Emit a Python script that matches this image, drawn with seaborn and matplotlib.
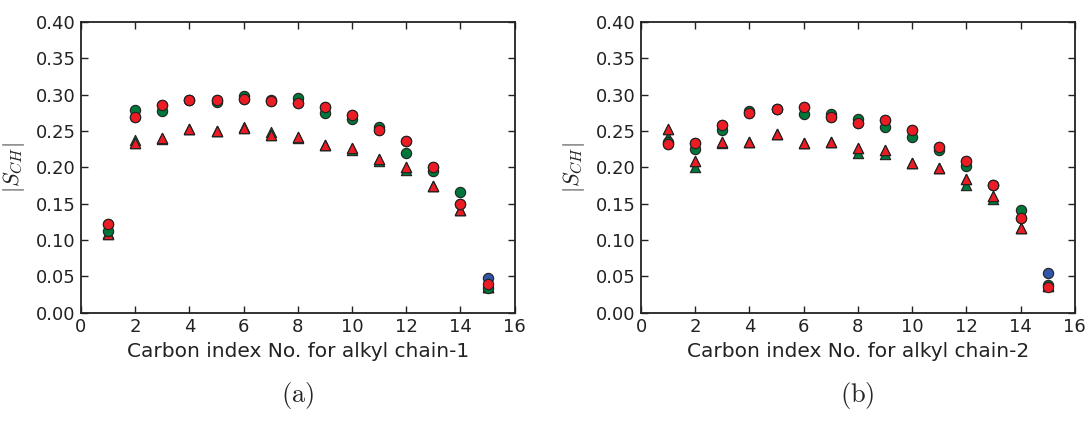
import matplotlib
matplotlib.use('Agg')
import matplotlib.pyplot as plt
import numpy as np
import pandas as pd
import seaborn as sns

carbon = list(range(1, 16))

# chain-1, panel (a)
a_blue_circle = [0.122, 0.2695, 0.286, 0.292, 0.292, 0.2945, 0.291, 0.288, 0.283, 0.272, 0.251, 0.236, 0.201, 0.149, 0.048]
a_green_circle = [0.113, 0.279, 0.277, 0.293, 0.290, 0.298, 0.292, 0.2955, 0.275, 0.267, 0.256, 0.220, 0.195, 0.166, 0.034]
a_red_circle = [0.122, 0.2695, 0.286, 0.292, 0.292, 0.2945, 0.291, 0.288, 0.283, 0.272, 0.251, 0.236, 0.201, 0.149, 0.040]
a_blue_tri = [0.109, 0.234, 0.2407, 0.253, 0.250, 0.2545, 0.2444, 0.242, 0.2307, 0.226, 0.211, 0.201, 0.1745, 0.142, 0.036]
a_green_tri = [0.110, 0.2375, 0.2395, 0.253, 0.250, 0.255, 0.248, 0.240, 0.2307, 0.2235, 0.209, 0.196, 0.1745, 0.142, 0.035]
a_red_tri = [0.109, 0.234, 0.2407, 0.253, 0.250, 0.2545, 0.2444, 0.242, 0.2307, 0.226, 0.211, 0.201, 0.1745, 0.142, 0.036]

# chain-2, panel (b)
b_blue_circle = [0.2325, 0.2329, 0.258, 0.2745, 0.2804, 0.2832, 0.2695, 0.261, 0.2645, 0.2507, 0.2278, 0.2087, 0.1758, 0.131, 0.055]
b_green_circle = [0.235, 0.2256, 0.252, 0.2773, 0.280, 0.2736, 0.2736, 0.2658, 0.255, 0.2416, 0.2242, 0.2019, 0.1758, 0.1416, 0.0389]
b_red_circle = [0.2325, 0.2329, 0.258, 0.2745, 0.2804, 0.2832, 0.2695, 0.261, 0.2645, 0.2507, 0.2278, 0.2087, 0.1758, 0.131, 0.0362]
b_blue_tri = [0.253, 0.2087, 0.2348, 0.2348, 0.2453, 0.2338, 0.2348, 0.227, 0.2233, 0.2053, 0.1997, 0.1845, 0.1603, 0.1173, 0.037]
b_green_tri = [0.2416, 0.200, 0.234, 0.2348, 0.2453, 0.2338, 0.2348, 0.2204, 0.219, 0.2055, 0.199, 0.1753, 0.157, 0.117, 0.038]
b_red_tri = [0.253, 0.2087, 0.2348, 0.2348, 0.2453, 0.2338, 0.2348, 0.227, 0.2233, 0.2053, 0.1997, 0.1845, 0.1603, 0.1173, 0.037]

blue = '#2f55a4'
green = '#00773a'
red = '#ec1c24'

sns.set_style('ticks', {'xtick.direction': 'in', 'ytick.direction': 'in',
                        'axes.edgecolor': '#222222'})
plt.rcParams['font.family'] = ['DejaVu Sans']
plt.rcParams['mathtext.fontset'] = 'cm'
plt.rcParams['xtick.top'] = True
plt.rcParams['ytick.right'] = True

fig = plt.figure(figsize=(10.87, 4.28), dpi=100)
ax_a = fig.add_axes([0.0745, 0.269, 0.399, 0.680])
ax_b = fig.add_axes([0.5897, 0.269, 0.399, 0.680])

panels = [
    (ax_a, [a_blue_circle, a_green_circle, a_red_circle], [a_blue_tri, a_green_tri, a_red_tri],
     'Carbon index No. for alkyl chain-1', '(a)', 0.2735),
    (ax_b, [b_blue_circle, b_green_circle, b_red_circle], [b_blue_tri, b_green_tri, b_red_tri],
     'Carbon index No. for alkyl chain-2', '(b)', 0.789),
]

for ax, circles, tris, xlabel, tag, tx in panels:
    for vals, col in zip(tris, [blue, green, red]):
        sns.scatterplot(x=carbon, y=vals, ax=ax, color=col, marker='^', s=55,
                        edgecolor='#222222', linewidth=0.8, zorder=3)
    for vals, col in zip(circles, [blue, green, red]):
        sns.scatterplot(x=carbon, y=vals, ax=ax, color=col, marker='o', s=55,
                        edgecolor='#222222', linewidth=0.8, zorder=4)
    ax.set_xlim(0, 16)
    ax.set_ylim(0, 0.40)
    ax.set_xticks(np.arange(0, 17, 2))
    ax.set_yticks(np.arange(0, 0.41, 0.05))
    ax.set_yticklabels([f'{v:.2f}' for v in np.arange(0, 0.41, 0.05)])
    ax.tick_params(labelsize=13, colors='#222222', length=5, width=1, pad=4)
    for sp in ax.spines.values():
        sp.set_linewidth(1.3)
    ax.set_xlabel(xlabel, fontsize=14.5, color='#222222', labelpad=4)
    ax.set_ylabel(r'$|S_{CH}|$', fontsize=16, color='#222222', labelpad=6)
    fig.text(tx, 0.075, r'$\mathrm{' + tag + '}$', fontsize=19, ha='center', va='center')

fig.savefig('out.png', dpi=100)
